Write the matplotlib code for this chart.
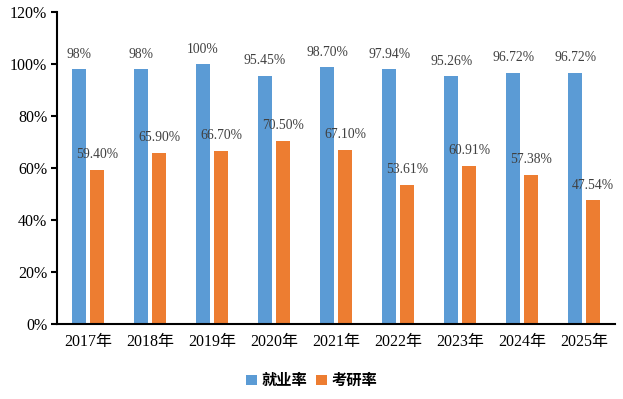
import matplotlib.pyplot as plt
import numpy as np
from matplotlib.ticker import PercentFormatter

years = ['2017年', '2018年', '2019年', '2020年', '2021年', '2022年', '2023年', '2024年', '2025年']
employ = [98, 98, 100, 95.45, 98.70, 97.94, 95.26, 96.72, 96.72]
employ_labels = ['98%', '98%', '100%', '95.45%', '98.70%', '97.94%', '95.26%', '96.72%', '96.72%']
grad = [59.40, 65.90, 66.70, 70.50, 67.10, 53.61, 60.91, 57.38, 47.54]
grad_labels = ['59.40%', '65.90%', '66.70%', '70.50%', '67.10%', '53.61%', '60.91%', '57.38%', '47.54%']

fam = ['Liberation Serif', 'Noto Sans CJK SC']
plt.rcParams['font.family'] = fam

fig = plt.figure(figsize=(6.23, 3.99), dpi=100)
ax = fig.add_axes([0.0915, 0.188, 0.896, 0.782])

x = np.arange(len(years))
w = 0.225
off = 0.145
b1 = ax.bar(x - off, employ, w, color='#5B9BD5', label='就业率')
b2 = ax.bar(x + off, grad, w, color='#ED7D31', label='考研率')

# data labels above each bar
for xi, v, s in zip(x, employ, employ_labels):
    ax.annotate(s, (xi - off, v), xytext=(0, 6), textcoords='offset points',
                ha='center', va='bottom', fontsize=9.8, color='#404040')
for xi, v, s in zip(x, grad, grad_labels):
    ax.annotate(s, (xi + off, v), xytext=(0, 6), textcoords='offset points',
                ha='center', va='bottom', fontsize=9.8, color='#404040')

ax.set_xlim(-0.5, len(years) - 0.5)
ax.set_ylim(0, 120)
ax.set_yticks(range(0, 121, 20))
ax.yaxis.set_major_formatter(PercentFormatter(decimals=0))
ax.set_xticks(x)
ax.set_xticklabels(years)
ax.tick_params(axis='x', length=0, labelsize=11.5, pad=7)
ax.tick_params(axis='y', length=4, width=1.5, labelsize=11.5, pad=3)
for s in ['top', 'right']:
    ax.spines[s].set_visible(False)
ax.spines['left'].set_linewidth(1.5)
ax.spines['bottom'].set_linewidth(1.5)

fig.legend(handles=[b1, b2], loc='center', bbox_to_anchor=(0.5, 0.047), ncol=2,
           frameon=False, handlelength=0.7, handleheight=0.7, handletextpad=0.3,
           columnspacing=0.6, prop={'family': ['Noto Sans CJK SC'], 'weight': 'bold', 'size': 11})

fig.savefig('out.png', dpi=100)
